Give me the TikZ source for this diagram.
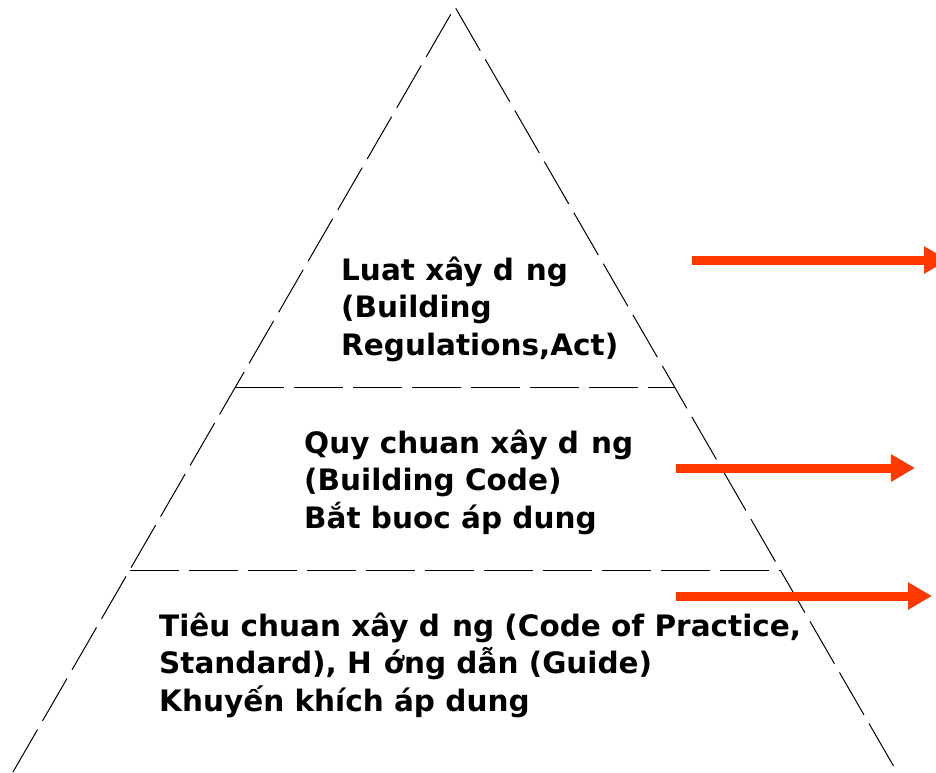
\documentclass[tikz,border=0pt]{standalone}
\usepackage{fontspec}
\setmainfont{DejaVu Sans}
\usetikzlibrary{arrows.meta,calc}
\definecolor{arrowred}{RGB}{255,56,0}
\newcommand{\miss}[0]{\hspace{12pt}}

\begin{document}
\begin{tikzpicture}[x=1pt,y=-1pt]
\tikzstyle{side}=[line width=1pt,dash pattern=on 49pt off 10pt]
\tikzstyle{tier}=[font=\bfseries\fontsize{29.5}{37.5}\selectfont,align=left,anchor=base west,inner sep=0pt]
\tikzstyle{push}=[arrowred,line width=9pt,-{Triangle[length=24pt,width=26pt]}]
\useasboundingbox (0,0) rectangle (936,772);
\coordinate (apex) at (455,7);
\coordinate (bl) at (13,772);
\coordinate (br) at (897,772);
\coordinate (upl) at ($(apex)!0.498!(bl)$);
\coordinate (upr) at ($(apex)!0.498!(br)$);
\coordinate (lowl) at ($(apex)!0.736!(bl)$);
\coordinate (lowr) at ($(apex)!0.736!(br)$);
% pyramid
\draw[side] (bl) -- (apex) -- (br);
\draw[side] (upl) -- (upr);
\draw[side] (lowl) -- (lowr);
% texts (base = last line)
\node[tier] (act) at (341,355) {Luat xây d\miss ng\\(Building\\Regulations,Act)};
\node[tier] (code) at (304,528) {Quy chuan xây d\miss ng\\(Building Code)\\Bắt buoc áp dung};
\node[tier] (std) at (159,711) {Tiêu chuan xây d\miss ng (Code of Practice,\\Standard), H\miss ớng dẫn (Guide)\\Khuyến khích áp dung};
% arrows
\coordinate (a1s) at (692,260);
\coordinate (a1e) at (948,260);
\coordinate (a2s) at (676,468);
\coordinate (a2e) at (915,468);
\coordinate (a3s) at (676,596);
\coordinate (a3e) at (932,596);
\draw[push] (a1s) -- (a1e);
\draw[push] (a2s) -- (a2e);
\draw[push] (a3s) -- (a3e);
\end{tikzpicture}
\end{document}
